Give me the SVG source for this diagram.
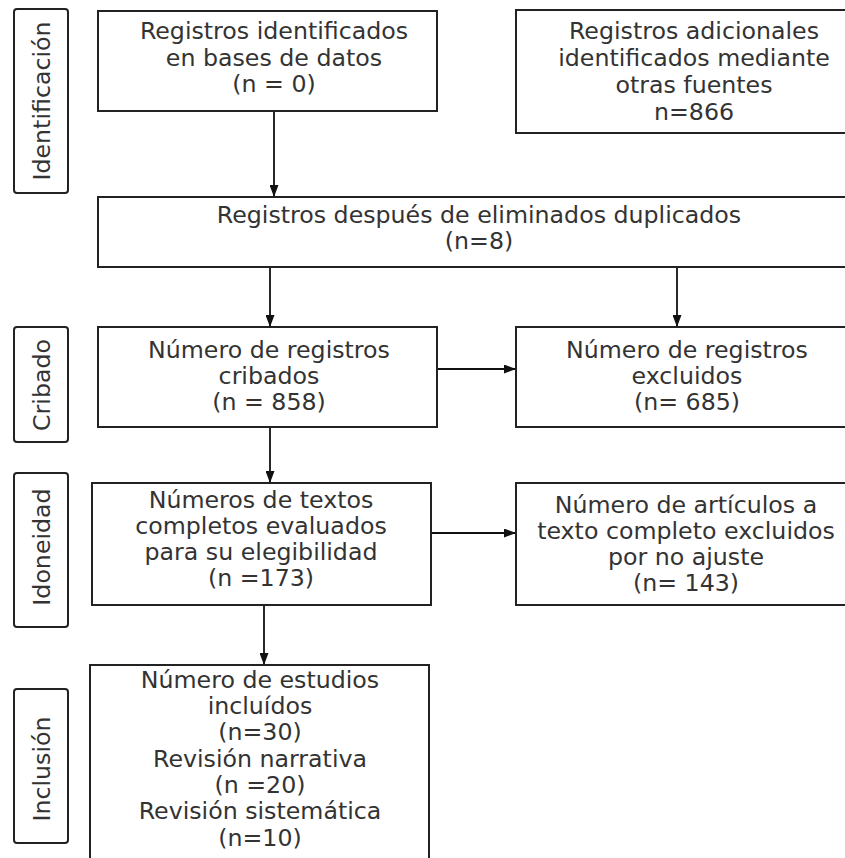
<svg xmlns="http://www.w3.org/2000/svg" width="845" height="858" viewBox="0 0 845 858">
<style>
.box{fill:#fff;stroke:#222;stroke-width:2}
.side{fill:#fff;stroke:#222;stroke-width:2}
text{font-family:"DejaVu Sans",Verdana,sans-serif;font-size:23.7px;fill:#333;text-anchor:middle}
.conn{stroke:#111;stroke-width:1.8;fill:none;marker-end:url(#ah)}
</style>
<defs>
<marker id="ah" viewBox="0 0 12 9" refX="12" refY="4.5" markerWidth="12" markerHeight="9" markerUnits="userSpaceOnUse" orient="auto">
<path d="M0,0 L12,4.5 L0,9 z" fill="#111"/>
</marker>
</defs>
<rect width="845" height="858" fill="#fff"/>
<g id="connectors">
<line class="conn" x1="274" y1="111" x2="274" y2="197"/>
<line class="conn" x1="270" y1="267" x2="270" y2="327"/>
<line class="conn" x1="677" y1="267" x2="677" y2="327"/>
<line class="conn" x1="437" y1="369" x2="516" y2="369"/>
<line class="conn" x1="270" y1="427" x2="270" y2="483"/>
<line class="conn" x1="431" y1="533" x2="516" y2="533"/>
<line class="conn" x1="264" y1="605" x2="264" y2="665"/>
</g>
<g id="lbl-identificacion">
<rect class="side" x="14" y="9" width="54" height="184" rx="3"/>
<text transform="translate(50,101) rotate(-90)">Identificación</text>
</g>
<g id="lbl-cribado">
<rect class="side" x="14" y="327" width="54" height="115" rx="3"/>
<text transform="translate(50,385) rotate(-90)">Cribado</text>
</g>
<g id="lbl-idoneidad">
<rect class="side" x="14" y="473" width="54" height="154" rx="3"/>
<text transform="translate(50,547) rotate(-90)">Idoneidad</text>
</g>
<g id="lbl-inclusion">
<rect class="side" x="14" y="689" width="54" height="154" rx="3"/>
<text transform="translate(50,769) rotate(-90)">Inclusión</text>
</g>
<g id="n-bases">
<rect class="box" x="98" y="11" width="339" height="100"/>
<text x="274" y="39">Registros identificados</text>
<text x="274" y="66">en bases de datos</text>
<text x="274" y="92">(n = 0)</text>
</g>
<g id="n-otras">
<rect class="box" x="516" y="10" width="340" height="123"/>
<text x="694" y="39">Registros adicionales</text>
<text x="694" y="66">identificados mediante</text>
<text x="694" y="93">otras fuentes</text>
<text x="694" y="120">n=866</text>
</g>
<g id="n-duplicados">
<rect class="box" x="98" y="197" width="758" height="70"/>
<text x="479" y="223">Registros después de eliminados duplicados</text>
<text x="479" y="249">(n=8)</text>
</g>
<g id="n-cribados">
<rect class="box" x="98" y="327" width="339" height="100"/>
<text x="269" y="358">Número de registros</text>
<text x="269" y="384">cribados</text>
<text x="269" y="410">(n = 858)</text>
</g>
<g id="n-excluidos">
<rect class="box" x="516" y="327" width="340" height="100"/>
<text x="687" y="358">Número de registros</text>
<text x="687" y="384">excluidos</text>
<text x="687" y="410">(n= 685)</text>
</g>
<g id="n-textos">
<rect class="box" x="92" y="483" width="339" height="122"/>
<text x="261" y="508">Números de textos</text>
<text x="261" y="534">completos evaluados</text>
<text x="261" y="560">para su elegibilidad</text>
<text x="261" y="586">(n =173)</text>
</g>
<g id="n-articulos">
<rect class="box" x="516" y="483" width="340" height="122"/>
<text x="686" y="513">Número de artículos a</text>
<text x="686" y="539">texto completo excluidos</text>
<text x="686" y="565">por no ajuste</text>
<text x="686" y="591">(n= 143)</text>
</g>
<g id="n-incluidos">
<rect class="box" x="90" y="665" width="339" height="210"/>
<text x="260" y="688">Número de estudios</text>
<text x="260" y="714">incluídos</text>
<text x="260" y="740">(n=30)</text>
<text x="260" y="767">Revisión narrativa</text>
<text x="260" y="793">(n =20)</text>
<text x="260" y="819">Revisión sistemática</text>
<text x="260" y="846">(n=10)</text>
</g>
</svg>
